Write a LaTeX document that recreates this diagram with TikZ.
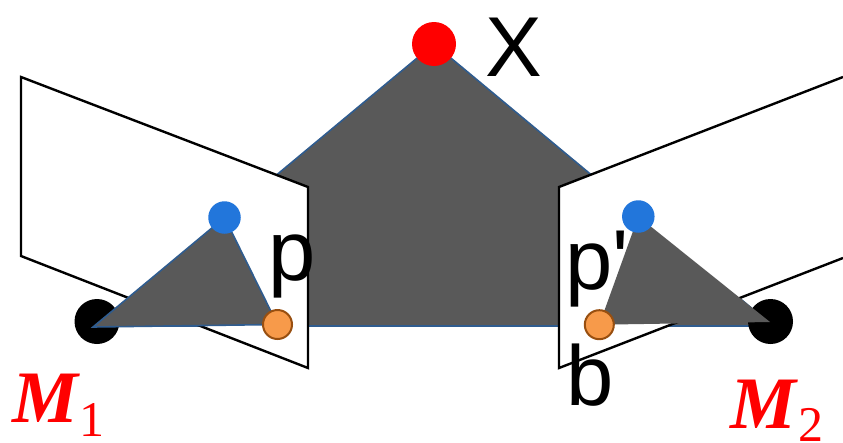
\documentclass[tikz,border=0pt]{standalone}
\usepackage{fontspec}
\newfontfamily\letterfont{Liberation Sans}
\newfontfamily\labelfont{Liberation Serif}
\definecolor{shade}{HTML}{595959}
\definecolor{rim}{HTML}{2F5C8F}
\definecolor{bluedot}{HTML}{2276DB}
\definecolor{orangedot}{HTML}{F79A4A}
\definecolor{orangerim}{HTML}{984F10}
\begin{document}
\begin{tikzpicture}[x=1pt,y=-1pt,
    dot/.style={circle,inner sep=0pt,minimum size=#1},
    imgdot/.style={dot=32.5pt,fill=bluedot},
    obsdot/.style={dot=29pt,fill=orangedot,draw=orangerim,line width=2pt},
    plane/.style={draw=black,line width=2.4pt,line join=miter},
    wedge/.style={fill=shade},
    letter/.style={inner sep=0pt,anchor=base west,font=\letterfont\fontsize{85}{85}\selectfont},
    camlabel/.style={inner sep=0pt,anchor=base west,text=red,font=\labelfont}]
  \useasboundingbox (0,0) rectangle (843,442);
  \coordinate (apex) at (434,44);
  \coordinate (base1) at (95,326);
  \coordinate (base2) at (773,326);
  \coordinate (tip1) at (93,327);
  \coordinate (tip2) at (770,322);
  \coordinate (q1) at (224.5,217.5);
  \coordinate (q2) at (638.3,216.5);
  \coordinate (p1) at (277.5,324.5);
  \coordinate (p2) at (599.3,324.7);
  % large triangle first, the planes hide part of it
  \draw [wedge,draw=rim,line width=1.6pt] (apex) -- (base1) -- (base2) -- cycle;
  \node [dot=44pt,fill=red] (X) at (apex) {};
  \draw [plane,fill=white] (21,77) -- (308,187) -- (308,368) -- (21,256) -- cycle;
  \fill [white] (559,187) -- (843,77) -- (843,258) -- (559,368) -- cycle;
  \draw [plane] (843,77) -- (559,187) -- (559,368) -- (843,258);
  \node [dot=45pt,fill=black] (M1) at (97,321.5) {};
  \node [dot=45pt,fill=black] (M2) at (770.5,321.5) {};
  \draw [wedge,draw=rim,line width=1.6pt] (tip1) -- (q1) -- (p1) -- cycle;
  \fill [wedge] (tip2) -- (q2) -- (p2) -- cycle;
  \node [imgdot] (n1) at (q1) {};
  \node [imgdot] (n2) at (q2) {};
  \node [obsdot] (o1) at (p1) {};
  \node [obsdot] (o2) at (p2) {};
  \node [letter] (lX) at (485,76) {X};
  \node [letter] (lp) at (268,280) {p};
  \node [letter] (lq) at (565,289) {p'};
  \node [letter] (lb) at (566,405) {b};
  \node [camlabel] (lM1) at (12,422) {{\fontsize{74}{74}\selectfont\bfseries\itshape M}\hspace{2pt}\raisebox{-14pt}{\fontsize{50}{50}\selectfont 1}};
  \node [camlabel] (lM2) at (730,428) {{\fontsize{74}{74}\selectfont\bfseries\itshape M}\hspace{2pt}\raisebox{-13pt}{\fontsize{50}{50}\selectfont 2}};
\end{tikzpicture}
\end{document}
